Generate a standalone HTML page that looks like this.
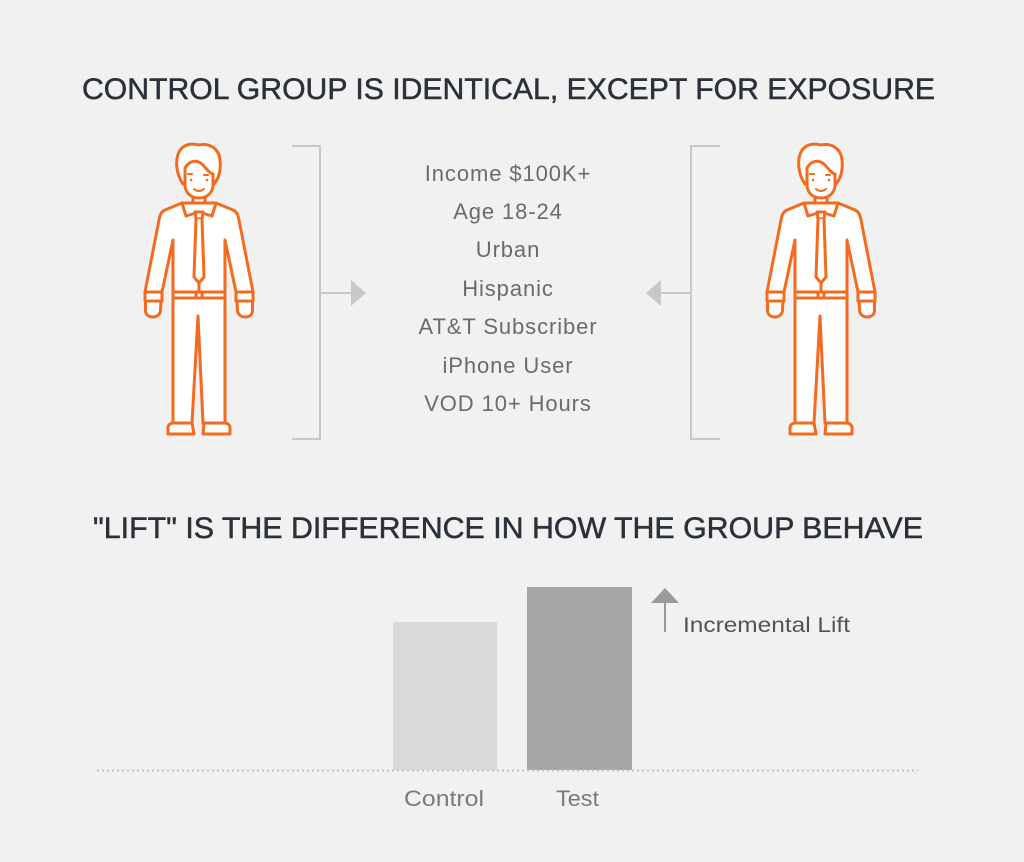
<!DOCTYPE html>
<html>
<head>
<meta charset="utf-8">
<style>
  html, body { margin: 0; padding: 0; background: #f1f1f1; }
  svg { display: block; }
</style>
</head>
<body>
<svg width="1024" height="862" viewBox="0 0 1024 862" xmlns="http://www.w3.org/2000/svg">
  <rect x="0" y="0" width="1024" height="862" fill="#f1f1f1"/>

  <!-- Title 1 -->
  <text x="82" y="99" font-family="Liberation Sans, sans-serif" font-size="30" fill="#2b313a" stroke="#2b313a" stroke-width="0.5" textLength="853" lengthAdjust="spacingAndGlyphs">CONTROL GROUP IS IDENTICAL, EXCEPT FOR EXPOSURE</text>

  <!-- Figure definition -->
  <defs>
    <g id="man" fill="#ffffff" stroke="#f26b1f" stroke-width="3" stroke-linejoin="round" stroke-linecap="round">
      <!-- hair -->
      <path d="M183,184 C176,174 175,160 179,152 C183,144 192,143 199,145 C209,143 219,148 220,160 C221,170 219,178 214,184 Z"/>
      <!-- neck -->
      <path d="M193,195 L193,205 L205,205 L205,195 Z"/>
      <!-- face -->
      <path d="M185,168 L185,186 C186,194 192,198 199,198 C206,198 212,194 213,186 L213,174 C209,173 206,168 202,164 C196,159 189,161 185,168 Z"/>
      <!-- shirt -->
      <path d="M182,203 L165,210 C161,212 160,215 159,220 L145,292 L162,292 L173,240 L173,292 L225,292 L225,240 L236,292 L253,292 L239,220 C238,215 237,212 233,210 L216,203 Z"/>
      <!-- collar -->
      <path d="M182,203 L186,216 L199,212 L212,216 L216,203" fill="none"/>
      <!-- tie -->
      <path d="M195,212 L203,212 L202,219 L196,219 Z"/>
      <path d="M196,219 L194,277 L199,283 L204,277 L202,219"/>
      <path d="M199,283 L199,292" fill="none"/>
      <!-- cuffs -->
      <rect x="145" y="292" width="17" height="9"/>
      <rect x="236" y="292" width="17" height="9"/>
      <!-- hands -->
      <path d="M145.5,301 L145.5,310 C145.5,315 149,317 153,317 C157,317 160.5,314 160.5,310 L161,301 Z"/>
      <path d="M252.5,301 L252.5,310 C252.5,315 249,317 245,317 C241,317 237.5,314 237.5,310 L237,301 Z"/>
      <!-- pants -->
      <path d="M173,298 L173,423 L192,423 L198,316 L203,423 L225,423 L225,298 Z"/>
      <!-- belt -->
      <rect x="173" y="292" width="52" height="6"/>
      <rect x="196" y="292" width="6" height="6"/>
      <!-- feet -->
      <path d="M168,434 L168,428 C168,425 170,423 174,423 L192,423 L194,434 Z"/>
      <path d="M230,434 L230,428 C230,425 228,423 224,423 L204,423 L203,434 Z"/>
      <!-- face details -->
      <g stroke-width="2" fill="none">
        <path d="M188,174 L192,174"/>
        <path d="M204,175 L208,175"/>
        <path d="M194,189 Q199,193 204,189"/>
      </g>
      <circle cx="191" cy="180" r="1.3" fill="#f26b1f" stroke="none"/>
      <circle cx="207" cy="180" r="1.3" fill="#f26b1f" stroke="none"/>
    </g>
  </defs>

  <use href="#man"/>
  <use href="#man" transform="translate(622,0)"/>

  <!-- Brackets and arrows -->
  <g stroke="#c8c8c8" stroke-width="2" fill="none">
    <path d="M292,146 L320,146 L320,439 L292,439"/>
    <path d="M320,293 L352,293"/>
    <path d="M720,146 L691,146 L691,439 L720,439"/>
    <path d="M691,293 L660,293"/>
  </g>
  <polygon points="351,280 366,293 351,306" fill="#c8c8c8"/>
  <polygon points="661,280 646,293 661,306" fill="#c8c8c8"/>

  <!-- Attribute list -->
  <g font-family="Liberation Sans, sans-serif" font-size="22" fill="#6a6b6d" text-anchor="middle" letter-spacing="0.9">
    <text x="508" y="181">Income $100K+</text>
    <text x="508" y="219">Age 18-24</text>
    <text x="508" y="257">Urban</text>
    <text x="508" y="296">Hispanic</text>
    <text x="508" y="334">AT&amp;T Subscriber</text>
    <text x="508" y="373">iPhone User</text>
    <text x="508" y="411">VOD 10+ Hours</text>
  </g>

  <!-- Title 2 -->
  <text x="93" y="538" font-family="Liberation Sans, sans-serif" font-size="30" fill="#2b313a" stroke="#2b313a" stroke-width="0.5" textLength="830" lengthAdjust="spacingAndGlyphs">"LIFT" IS THE DIFFERENCE IN HOW THE GROUP BEHAVE</text>

  <!-- Bars -->
  <rect x="393" y="622" width="104" height="148" fill="#d9d9d9"/>
  <rect x="527" y="587" width="105" height="183" fill="#a6a6a6"/>

  <!-- Baseline dotted -->
  <line x1="97" y1="770.5" x2="918" y2="770.5" stroke="#c2c2c2" stroke-width="2" stroke-dasharray="2 3"/>

  <!-- Bar labels -->
  <text x="404" y="806" font-family="Liberation Sans, sans-serif" font-size="22" fill="#7a7a7a" textLength="80" lengthAdjust="spacingAndGlyphs">Control</text>
  <text x="556" y="806" font-family="Liberation Sans, sans-serif" font-size="22" fill="#7a7a7a" textLength="43" lengthAdjust="spacingAndGlyphs">Test</text>

  <!-- Incremental lift arrow -->
  <line x1="665" y1="602" x2="665" y2="632" stroke="#9a9a9a" stroke-width="2"/>
  <polygon points="651,603 665,588 679,603" fill="#9a9a9a"/>
  <text x="683" y="632" font-family="Liberation Sans, sans-serif" font-size="21" fill="#50545a" textLength="167" lengthAdjust="spacingAndGlyphs">Incremental Lift</text>
</svg>
</body>
</html>
